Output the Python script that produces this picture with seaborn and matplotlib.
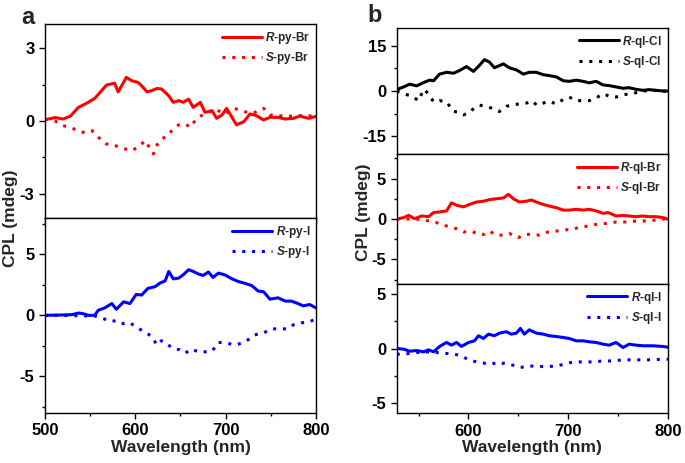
import matplotlib.pyplot as plt
import seaborn as sns
from matplotlib.ticker import MultipleLocator, AutoMinorLocator

# ---- data (wavelength in nm, CPL in mdeg) ----
# panel a, top
wl_r_py_br = [500, 511, 520, 528, 537, 546, 555, 561, 568, 577, 581, 587, 590, 596, 603, 607, 613, 618, 624, 629,
              637, 642, 648, 653, 659, 664, 672, 677, 685, 690, 696, 701, 707, 712, 720, 727, 734, 742, 749, 758,
              766, 775, 782, 792, 800]
r_py_br = [0.05, 0.14, 0.08, 0.2, 0.56, 0.73, 0.93, 1.18, 1.48, 1.56, 1.2, 1.59, 1.8, 1.66, 1.59, 1.45, 1.2, 1.25, 1.34, 1.32,
           1.04, 0.77, 0.84, 0.77, 0.9, 0.56, 0.77, 0.36, 0.42, 0.11, 0.25, 0.52, 0.15, -0.16, -0.03, 0.29, 0.22, 0.04, 0.15, 0.15,
           0.08, 0.11, 0.2, 0.11, 0.19]
wl_s_py_br = [500, 511, 520, 530, 544, 552, 559, 568, 576, 585, 596, 603, 611, 616, 620, 624, 629, 635, 642, 648,
              655, 661, 666, 673, 681, 688, 699, 710, 721, 731, 742, 749, 758, 769, 780, 792, 800]
s_py_br = [0.08, 0.0, -0.19, -0.3, -0.49, -0.4, -0.67, -0.95, -0.99, -1.12, -1.22, -1.08, -0.81, -1.12, -1.36, -0.99, -0.74, -0.63, -0.33, -0.16,
           -0.12, -0.26, 0.01, 0.22, 0.36, 0.49, 0.29, 0.52, 0.38, 0.33, 0.52, 0.25, 0.22, 0.19, 0.22, 0.22, 0.15]

# panel a, bottom
wl_r_py_i = [500, 518, 530, 537, 542, 548, 555, 559, 566, 574, 579, 587, 594, 601, 607, 614, 622, 627, 633, 637,
             642, 648, 653, 659, 664, 670, 675, 681, 686, 692, 699, 707, 714, 721, 729, 736, 742, 749, 758, 766,
             773, 780, 786, 793, 800]
r_py_i = [0, 0.03, 0.06, 0.19, 0.14, 0, 0, 0.42, 0.61, 0.97, 0.5, 1.11, 0.97, 1.72, 1.67, 2.22, 2.36, 2.64, 2.83, 3.61,
          3.0, 3.06, 3.33, 3.75, 3.61, 3.39, 3.28, 3.56, 3.11, 3.47, 3.33, 3.0, 2.78, 2.64, 2.44, 2.0, 1.94, 1.33, 1.44, 1.17,
          1.17, 0.97, 0.78, 0.89, 0.61]
wl_s_py_i = [500, 520, 541, 555, 565, 574, 579, 587, 594, 603, 611, 618, 624, 629, 635, 642, 649, 655, 662, 670,
             677, 685, 692, 701, 710, 718, 725, 732, 742, 751, 760, 768, 775, 784, 792, 800]
s_py_i = [0, 0, -0.05, -0.05, -0.28, -0.5, -0.42, -0.69, -0.61, -1.06, -1.39, -1.72, -2.44, -2.08, -2.36, -2.72, -2.83, -3.11, -2.78, -3.0,
          -3.0, -2.94, -2.22, -2.28, -2.44, -2.28, -2.0, -1.61, -1.44, -1.11, -1.11, -1.11, -0.78, -0.61, -0.56, -0.28]

# panel b, top
wl_r_ql_cl = [528, 535, 541, 548, 555, 561, 565, 571, 578, 585, 591, 598, 605, 611, 616, 621, 626, 635, 641, 648,
              655, 661, 668, 675, 681, 688, 695, 701, 708, 715, 721, 728, 735, 741, 748, 755, 761, 768, 775, 781,
              788, 795, 800]
r_ql_cl = [0.5, 1.35, 2.26, 1.7, 2.8, 3.6, 3.4, 5.6, 6.2, 5.9, 6.8, 8.1, 6.5, 8.5, 10.4, 9.6, 7.7, 9.0, 7.7, 7.0,
           5.6, 6.2, 6.2, 5.4, 5.1, 4.7, 3.4, 3.2, 3.6, 3.2, 2.7, 3.2, 2.0, 1.8, 1.35, 0.9, 1.1, 0.56, 0.23, 0.45,
           0.23, 0.0, 0.0]
wl_s_ql_cl = [528, 535, 543, 550, 555, 560, 565, 571, 578, 585, 590, 595, 600, 606, 611, 618, 625, 631, 638, 645,
              651, 658, 665, 668, 675, 681, 688, 695, 701, 708, 715, 721, 728, 735, 741, 748, 755, 761, 768, 775,
              785, 795, 800]
s_ql_cl = [0, -0.9, -1.7, -3.2, 0.56, -0.9, -3.6, -3.2, -3.6, -6.8, -7.0, -7.9, -7.3, -5.6, -4.7, -5.1, -5.9, -6.8, -5.1, -4.5,
           -4.3, -4.0, -3.4, -4.7, -4.0, -3.4, -4.3, -2.8, -2.0, -3.2, -3.2, -3.2, -2.3, -0.9, -1.7, -2.0, -1.35, -0.9, -0.56, 0.0,
           0.23, 0.0, -0.2]

# panel b, middle
wl_r_ql_br = [528, 535, 540, 546, 553, 560, 565, 571, 578, 583, 588, 595, 601, 608, 615, 621, 628, 635, 640, 645,
              651, 658, 663, 668, 675, 681, 688, 695, 701, 708, 715, 721, 728, 735, 740, 748, 755, 761, 768, 775,
              781, 788, 795, 800]
r_ql_br = [0, 0.17, 0.45, 0.04, 0.37, 0.29, 0.8, 0.87, 1.0, 2.0, 1.7, 1.5, 1.8, 2.1, 2.2, 2.4, 2.5, 2.6, 3.05, 2.5,
           2.1, 2.2, 2.35, 2.1, 1.8, 1.6, 1.4, 1.1, 1.1, 1.2, 1.1, 1.2, 1.0, 0.7, 0.8, 0.37, 0.45, 0.37, 0.29, 0.37,
           0.29, 0.29, 0.17, 0.0]
wl_s_ql_br = [528, 548, 561, 568, 580, 588, 595, 603, 610, 616, 621, 628, 635, 641, 650, 656, 665, 671, 680, 688,
              695, 703, 711, 720, 728, 738, 748, 758, 768, 778, 788, 800]
s_ql_br = [0, 0, -0.25, -0.45, -0.95, -1.2, -1.6, -1.5, -1.9, -1.9, -1.5, -2.0, -2.0, -1.8, -2.3, -1.9, -1.9, -2.0, -1.6, -1.5,
           -1.35, -1.3, -1.05, -0.87, -0.66, -0.54, -0.37, -0.37, -0.25, -0.25, -0.12, 0.04]

# panel b, bottom
wl_r_ql_i = [528, 535, 541, 548, 555, 560, 565, 571, 578, 583, 588, 593, 600, 606, 610, 615, 620, 626, 631, 638,
             643, 648, 652, 656, 661, 668, 675, 681, 688, 695, 701, 708, 715, 721, 728, 735, 741, 748, 755, 761,
             768, 775, 785, 795, 800]
r_ql_i = [0, -0.06, -0.25, -0.19, -0.31, -0.12, -0.31, 0.19, 0.56, 0.31, 0.56, 0.19, 0.56, 0.71, 1.18, 0.93, 1.33, 1.18, 1.42, 1.55,
          1.33, 1.42, 1.86, 1.33, 1.73, 1.42, 1.33, 1.18, 1.11, 1.02, 0.93, 0.71, 0.71, 0.62, 0.56, 0.4, 0.31, 0.56, 0.09, 0.4,
          0.31, 0.25, 0.25, 0.19, 0.12]
wl_s_ql_i = [528, 535, 548, 561, 575, 586, 593, 600, 608, 616, 623, 630, 638, 645, 652, 661, 670, 680, 688, 696,
             705, 715, 725, 735, 745, 755, 768, 781, 795, 800]
s_ql_i = [-0.53, -0.53, -0.37, -0.31, -0.43, -0.53, -0.68, -1.05, -1.24, -1.36, -1.46, -1.24, -1.46, -1.55, -1.76, -1.61, -1.67, -1.67, -1.61, -1.46,
          -1.24, -1.24, -1.24, -1.15, -1.15, -1.05, -1.05, -1.05, -0.99, -0.99]

sns.set_style("ticks")
plt.rcParams['font.family'] = ['Liberation Sans', 'DejaVu Sans']
plt.rcParams['font.weight'] = 'bold'
plt.rcParams['axes.labelweight'] = 'bold'
plt.rcParams['axes.unicode_minus'] = False
plt.rcParams['mathtext.fontset'] = 'custom'
plt.rcParams['mathtext.it'] = 'Liberation Sans:italic:bold'
plt.rcParams['mathtext.rm'] = 'Liberation Sans:bold'

DOT = (0, (1.0, 2.2))

fig = plt.figure(figsize=(6.85, 4.63), dpi=100)

# [left, bottom, width, height] of each panel
ax_a1 = fig.add_axes([0.0657, 0.5292, 0.3956, 0.419])
ax_a2 = fig.add_axes([0.0657, 0.1086, 0.3956, 0.4206])
ax_b1 = fig.add_axes([0.5791, 0.6667, 0.396, 0.2735])
ax_b2 = fig.add_axes([0.5791, 0.3873, 0.396, 0.2794])
ax_b3 = fig.add_axes([0.5791, 0.1073, 0.396, 0.2800])

panels = [
    (ax_a1, wl_r_py_br, r_py_br, wl_s_py_br, s_py_br, 'red', 'py-Br', (-4, 4), 3, (500, 800)),
    (ax_a2, wl_r_py_i, r_py_i, wl_s_py_i, s_py_i, 'blue', 'py-I', (-8, 8), 5, (500, 800)),
    (ax_b1, wl_r_ql_cl, r_ql_cl, wl_s_ql_cl, s_ql_cl, 'black', 'ql-Cl', (-21, 21), 15, (528, 800)),
    (ax_b2, wl_r_ql_br, r_ql_br, wl_s_ql_br, s_ql_br, 'red', 'ql-Br', (-8, 8), 5, (528, 800)),
    (ax_b3, wl_r_ql_i, r_ql_i, wl_s_ql_i, s_ql_i, 'blue', 'ql-I', (-6, 6), 5, (528, 800)),
]

for ax, wr, yr, ws, ys, col, name, ylim, ystep, xlim in panels:
    sns.lineplot(x=wr, y=yr, ax=ax, color=col, lw=2.2, label=r'$\mathit{R}$-' + name)
    sns.lineplot(x=ws, y=ys, ax=ax, color=col, lw=2.2, ls=DOT, label=r'$\mathit{S}$-' + name)
    ax.set_xlim(*xlim)
    ax.set_ylim(*ylim)
    ax.yaxis.set_major_locator(MultipleLocator(ystep))
    ax.yaxis.set_minor_locator(AutoMinorLocator(2))
    ax.xaxis.set_major_locator(MultipleLocator(100))
    ax.xaxis.set_minor_locator(MultipleLocator(50))
    ax.tick_params(which='both', direction='out', colors='black', labelsize=12, width=1)
    ax.tick_params(which='major', length=4)
    ax.tick_params(which='minor', length=2.5)
    for s in ax.spines.values():
        s.set_visible(True)
        s.set_color('black')
        s.set_linewidth(1)
    ax.set_xlabel('')
    ax.set_ylabel('')
    ax.legend(loc='upper right', frameon=False, prop={'size': 8.5, 'weight': 'bold'},
              handlelength=3.4, handletextpad=0.3, labelspacing=0.35,
              borderaxespad=0.2, borderpad=0.3)

for ax in [ax_a1, ax_b1, ax_b2]:
    ax.tick_params(labelbottom=False)

ax_a2.set_xlabel('Wavelength (nm)', fontsize=12.5, labelpad=1)
ax_b3.set_xlabel('Wavelength (nm)', fontsize=12.5, labelpad=1)

fig.text(0.016, 1 - 218 / 463, 'CPL (mdeg)', rotation=90, ha='center', va='center', fontsize=12.5)
fig.text(0.531, 1 - 212 / 463, 'CPL (mdeg)', rotation=90, ha='center', va='center', fontsize=12.5)
fig.text(0.04, 1 - 17 / 463, 'a', ha='center', va='center', fontsize=17, fontweight='bold')
fig.text(0.547, 1 - 16 / 463, 'b', ha='center', va='center', fontsize=17, fontweight='bold')

fig.savefig('out.png', dpi=100)
